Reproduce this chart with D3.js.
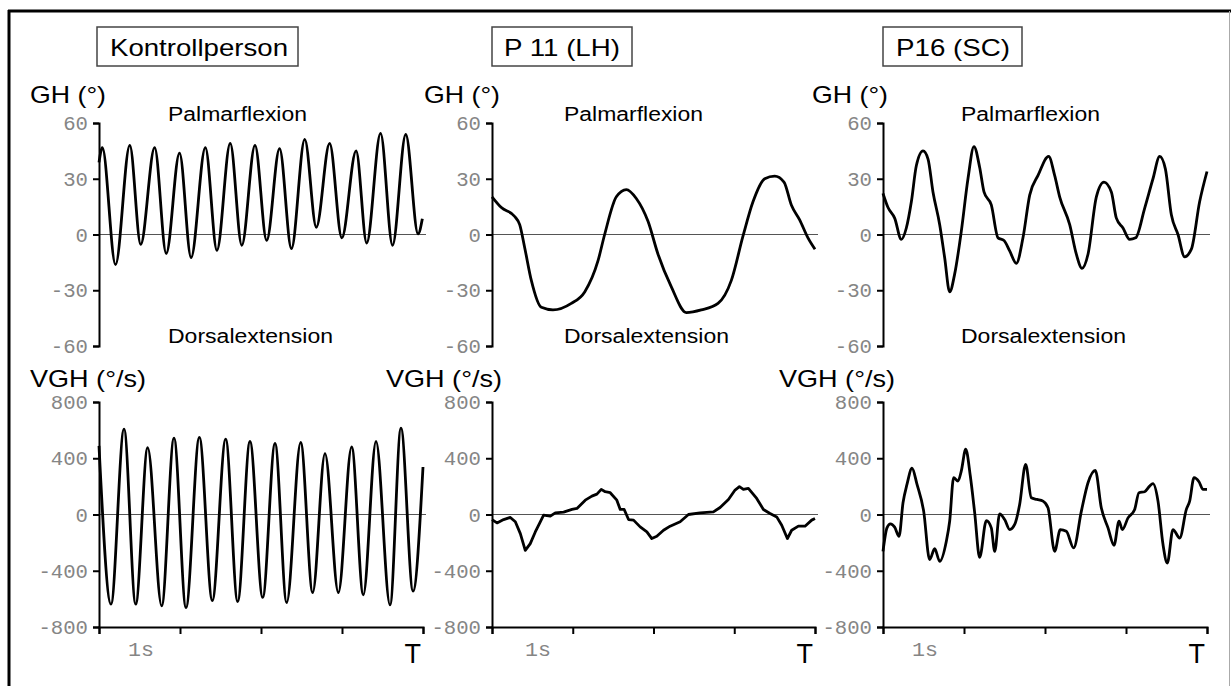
<!DOCTYPE html>
<html>
<head>
<meta charset="utf-8">
<style type="text/css">
  body {
    margin: 0;
    background-color: #fff;
  }
  svg {
    display: block;
  }
  .Axis path,
  .Axis line {
    fill: none;
    stroke: #000;
    stroke-width: 2;
  }
  .Axis text {
    display: none;
  }
  .tick-label {
    font-family: "Liberation Mono", "DejaVu Sans Mono", monospace;
    font-size: 20px;
    fill: #858585;
  }
  .label {
    font-family: "Liberation Sans", Arial, sans-serif;
    fill: #000;
  }
  .zero-line {
    stroke: #555;
    stroke-width: 1.2;
  }
  .line {
    fill: none;
    stroke: #000;
    stroke-width: 2.8;
    stroke-linejoin: round;
  }
</style>
</head>
<body>
<script src="https://d3js.org/d3.v7.min.js"></script>
<script>
// panel titles
var titles = ["Kontrollperson", "P 11 (LH)", "P16 (SC)"];
var ghTicks = [60, 30, 0, -30, -60];
var vghTicks = [800, 400, 0, -400, -800];
var timeTicks = [0, 1, 2, 3, 4];

// joint angle GH (deg) over time (s), [t, value]
var kontrollGH = [[0,38.8],[0.041,46.8],[0.204,-16.2],[0.380,48],[0.515,-5.3],[0.687,46.8],[0.830,-10.2],
  [0.994,43.8],[1.137,-12.4],[1.313,46.8],[1.456,-8.5],[1.620,49],[1.763,-5.8],[1.926,48],[2.070,-3.2],
  [2.229,46.2],[2.376,-7.6],[2.540,51.2],[2.683,3.9],[2.847,49],[2.998,-1.8],[3.174,45],[3.305,-4.6],
  [3.476,54.4],[3.624,-5.8],[3.787,53.8],[3.939,0.4],[3.992,8.5]];
var p11GH = [[0,20.3],[0.116,14.5],[0.281,9.7],[0.343,5.3],[0.405,-7.1],[0.487,-24.7],[0.611,-39.2],
  [0.755,-40.6],[0.982,-37.1],[1.148,-30.9],[1.313,-14.1],[1.395,0],[1.540,20.3],[1.664,24.2],[1.787,19.4],
  [1.932,7.1],[2.056,-10.6],[2.221,-28.2],[2.407,-42],[2.592,-40.6],[2.799,-37.1],[2.964,-24.7],
  [3.108,-0.9],[3.232,17.6],[3.377,30],[3.501,31.4],[3.616,28.2],[3.707,15.9],[3.810,7.9],[3.913,-1.8],[4,-7.9]];
var p16GH = [[0,22.1],[0.062,14.5],[0.144,8.8],[0.226,-2.6],[0.288,3.5],[0.350,17.6],[0.412,37.1],[0.494,45],
  [0.556,40.6],[0.617,22.9],[0.700,5.3],[0.761,-12.4],[0.823,-30.9],[0.885,-21.2],[0.967,1.8],[1.049,30],
  [1.123,47.3],[1.193,36.2],[1.247,22.9],[1.337,15.9],[1.420,-1.8],[1.494,-3.2],[1.564,-8.8],[1.646,-15.5],
  [1.728,-1.8],[1.811,21.2],[1.914,31.8],[2.045,42],[2.119,31.8],[2.181,20.3],[2.305,5.3],[2.387,-10.6],
  [2.457,-18.2],[2.531,-10.6],[2.634,20.3],[2.728,28.2],[2.819,22.9],[2.881,8.8],[2.963,3.5],[3.045,-2.6],
  [3.119,-1.8],[3.230,14.1],[3.333,30],[3.416,42],[3.486,35.3],[3.560,10.6],[3.642,0],[3.724,-12],
  [3.807,-7.9],[3.909,17.6],[4,33.9]];

// angular velocity VGH (deg/s) over time (s), [t, value]
var kontrollVGH = [[0,488],[0.148,-638],[0.309,607],[0.453,-638],[0.601,476],[0.774,-650],[0.926,543],
  [1.074,-662],[1.239,548],[1.399,-612],[1.564,536],[1.712,-619],[1.864,519],[2.021,-590],[2.173,505],
  [2.317,-626],[2.490,512],[2.638,-555],[2.790,433],[2.955,-555],[3.119,481],[3.263,-571],[3.420,519],
  [3.593,-643],[3.728,614],[3.877,-545],[4,338]];
var p11VGH = [[0,-36],[0.062,-60],[0.144,-36],[0.227,-21],[0.289,-52],[0.351,-136],[0.412,-255],[0.474,-207],
  [0.536,-124],[0.598,-52],[0.639,-5],[0.722,-12],[0.784,12],[0.887,17],[0.990,36],[1.052,43],[1.155,102],
  [1.237,131],[1.299,145],[1.353,179],[1.402,162],[1.464,155],[1.546,102],[1.588,36],[1.637,36],[1.691,-36],
  [1.753,-40],[1.835,-88],[1.918,-124],[1.979,-171],[2.041,-155],[2.124,-112],[2.206,-83],[2.330,-52],
  [2.433,0],[2.577,12],[2.742,19],[2.825,50],[2.928,107],[3.010,174],[3.064,198],[3.113,179],[3.175,186],
  [3.278,114],[3.361,36],[3.443,7],[3.526,-17],[3.588,-76],[3.658,-171],[3.711,-112],[3.794,-83],
  [3.876,-83],[3.959,-40],[4,-29]];
var p16VGH = [[0,-262],[0.049,-95],[0.091,-67],[0.144,-90],[0.198,-155],[0.247,83],[0.296,214],[0.358,329],
  [0.420,214],[0.502,24],[0.576,-321],[0.638,-243],[0.700,-333],[0.782,-190],[0.823,-48],[0.872,262],
  [0.926,238],[0.967,310],[1.021,464],[1.078,274],[1.132,12],[1.193,-305],[1.276,-43],[1.337,-95],
  [1.379,-262],[1.440,5],[1.502,-36],[1.564,-107],[1.626,-71],[1.687,71],[1.761,357],[1.831,119],
  [1.901,107],[1.975,95],[2.037,48],[2.119,-262],[2.189,-107],[2.263,-119],[2.354,-238],[2.449,24],
  [2.531,226],[2.621,314],[2.695,48],[2.778,-95],[2.852,-219],[2.914,-48],[2.955,-107],[3.025,-24],
  [3.107,36],[3.160,155],[3.230,162],[3.292,202],[3.333,219],[3.395,95],[3.457,-214],[3.510,-345],
  [3.580,-107],[3.663,-167],[3.745,36],[3.786,95],[3.840,262],[3.901,233],[3.951,179],[4,179]];

// layout of the three columns
var panels = [
  {ax: 99,  w: 324, boxX: 97,  boxW: 201, titleX: 110, titleW: 178, ghX: 30,  vghX: 30,  textX: 168, oneX: 128,
   gh: kontrollGH, vgh: kontrollVGH, ghCurve: d3.curveMonotoneX, vghCurve: d3.curveMonotoneX},
  {ax: 492, w: 323, boxX: 492, boxW: 140, titleX: 504, titleW: 116, ghX: 424, vghX: 386, textX: 564, oneX: 525,
   gh: p11GH, vgh: p11VGH, ghCurve: d3.curveMonotoneX, vghCurve: d3.curveLinear},
  {ax: 883, w: 324, boxX: 883, boxW: 139, titleX: 896, titleW: 114, ghX: 812, vghX: 779, textX: 961, oneX: 912,
   gh: p16GH, vgh: p16VGH, ghCurve: d3.curveMonotoneX, vghCurve: d3.curveMonotoneX}
];

var width = 1231, height = 686;
var svg = d3.select("body").append("svg")
  .attr("width", width)
  .attr("height", height);

// outer frame
svg.append("line").attr("x1", 9).attr("x2", 9).attr("y1", 10).attr("y2", height)
  .attr("stroke", "#000").attr("stroke-width", 3);
svg.append("line").attr("x1", 8).attr("x2", 1231).attr("y1", 11).attr("y2", 11)
  .attr("stroke", "#000").attr("stroke-width", 3);
svg.append("line").attr("x1", 1229.5).attr("x2", 1229.5).attr("y1", 11).attr("y2", height)
  .attr("stroke", "#aaa").attr("stroke-width", 1);

var yGH = d3.scaleLinear().domain([-60, 60]).range([346, 123]);
var yVGH = d3.scaleLinear().domain([-800, 800]).range([627, 402]);

panels.forEach(function(p, i) {
  var xScale = d3.scaleLinear().domain([0, 4]).range([p.ax, p.ax + p.w]);
  var g = svg.append("g").attr("class", "panel");

  // title box
  g.append("rect")
    .attr("x", p.boxX).attr("y", 27)
    .attr("width", p.boxW).attr("height", 39)
    .attr("fill", "none").attr("stroke", "#444").attr("stroke-width", 1.5);
  g.append("text").attr("class", "label")
    .attr("x", p.titleX).attr("y", 56)
    .attr("font-size", 24)
    .attr("textLength", p.titleW).attr("lengthAdjust", "spacingAndGlyphs")
    .text(titles[i]);

  g.append("text").attr("class", "label")
    .attr("x", p.ghX).attr("y", 103).attr("font-size", 24)
    .attr("textLength", 76).attr("lengthAdjust", "spacingAndGlyphs")
    .text("GH (°)");
  g.append("text").attr("class", "label")
    .attr("x", p.vghX).attr("y", 387).attr("font-size", 24)
    .attr("textLength", 116).attr("lengthAdjust", "spacingAndGlyphs")
    .text("VGH (°/s)");
  g.append("text").attr("class", "label")
    .attr("x", p.textX).attr("y", 121).attr("font-size", 20)
    .attr("textLength", 139).attr("lengthAdjust", "spacingAndGlyphs")
    .text("Palmarflexion");
  g.append("text").attr("class", "label")
    .attr("x", p.textX).attr("y", 343).attr("font-size", 20)
    .attr("textLength", 165).attr("lengthAdjust", "spacingAndGlyphs")
    .text("Dorsalextension");

  // zero lines
  g.append("line").attr("class", "zero-line")
    .attr("x1", p.ax).attr("x2", p.ax + p.w + 3)
    .attr("y1", yGH(0)).attr("y2", yGH(0));
  g.append("line").attr("class", "zero-line")
    .attr("x1", p.ax).attr("x2", p.ax + p.w + 3)
    .attr("y1", yVGH(0)).attr("y2", yVGH(0));

  // axes
  g.append("g").attr("class", "Axis")
    .attr("transform", "translate(" + p.ax + ",0)")
    .call(d3.axisLeft(yGH).tickValues(ghTicks).tickSize(6).tickSizeOuter(6));
  g.append("g").attr("class", "Axis")
    .attr("transform", "translate(" + p.ax + ",0)")
    .call(d3.axisLeft(yVGH).tickValues(vghTicks).tickSize(6).tickSizeOuter(6));
  g.append("g").attr("class", "Axis")
    .attr("transform", "translate(0," + yVGH(-800) + ")")
    .call(d3.axisBottom(xScale).tickValues(timeTicks).tickSize(7).tickSizeOuter(7).tickFormat(""));

  // tick labels
  g.selectAll(".gh-label")
    .data(ghTicks).enter()
    .append("text").attr("class", "tick-label")
    .attr("x", p.ax - 11).attr("y", function(d) { return yGH(d); })
    .attr("dy", "0.36em").attr("text-anchor", "end")
    .attr("textLength", function(d) { return String(d).length * 12.4; })
    .attr("lengthAdjust", "spacingAndGlyphs")
    .text(function(d) { return d; });
  g.selectAll(".vgh-label")
    .data(vghTicks).enter()
    .append("text").attr("class", "tick-label")
    .attr("x", p.ax - 11).attr("y", function(d) { return yVGH(d); })
    .attr("dy", "0.36em").attr("text-anchor", "end")
    .attr("textLength", function(d) { return String(d).length * 12.4; })
    .attr("lengthAdjust", "spacingAndGlyphs")
    .text(function(d) { return d; });

  g.append("text").attr("class", "tick-label")
    .attr("x", p.oneX).attr("y", 656)
    .attr("textLength", 26).attr("lengthAdjust", "spacingAndGlyphs")
    .text("1s");
  g.append("text").attr("class", "label")
    .attr("x", p.ax + p.w - 2).attr("y", 663)
    .attr("text-anchor", "end").attr("font-size", 27)
    .text("T");

  // curves
  var ghLine = d3.line()
    .x(function(d) { return xScale(d[0]); })
    .y(function(d) { return yGH(d[1]); })
    .curve(p.ghCurve);
  var vghLine = d3.line()
    .x(function(d) { return xScale(d[0]); })
    .y(function(d) { return yVGH(d[1]); })
    .curve(p.vghCurve);
  g.append("path").attr("class", "line").attr("d", ghLine(p.gh));
  g.append("path").attr("class", "line").attr("d", vghLine(p.vgh));
});
</script>
</body>
</html>
